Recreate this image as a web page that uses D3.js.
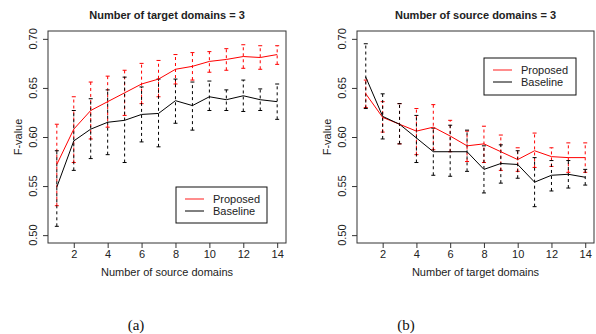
<!DOCTYPE html>
<html>
<head>
<meta charset="utf-8">
<script src="https://cdn.jsdelivr.net/npm/d3@7"></script>
<style>
  body { margin: 0; background: #fff; }
  svg { display: block; font-family: "Liberation Sans", Arial, sans-serif; }
</style>
</head>
<body>
<svg width="596" height="334"></svg>
<script>
// x positions shared by both panels
const domains = [1, 2, 3, 4, 5, 6, 7, 8, 9, 10, 11, 12, 13, 14];
const xTicks = [2, 4, 6, 8, 10, 12, 14];
const yTicks = [0.50, 0.55, 0.60, 0.65, 0.70];

// (a) target domains = 3, varying source domains
const aProposed    = [0.572, 0.608, 0.627, 0.636, 0.645, 0.654, 0.659, 0.669, 0.672, 0.677, 0.679, 0.682, 0.681, 0.684];
const aProposedHi  = [0.613, 0.641, 0.656, 0.662, 0.668, 0.675, 0.678, 0.684, 0.686, 0.687, 0.690, 0.694, 0.693, 0.693];
const aProposedLo  = [0.530, 0.574, 0.598, 0.610, 0.622, 0.634, 0.641, 0.654, 0.658, 0.666, 0.668, 0.670, 0.669, 0.674];
const aBaseline    = [0.549, 0.596, 0.608, 0.615, 0.617, 0.623, 0.624, 0.637, 0.632, 0.641, 0.638, 0.642, 0.638, 0.636];
const aBaselineHi  = [0.586, 0.627, 0.639, 0.648, 0.661, 0.651, 0.659, 0.659, 0.656, 0.657, 0.648, 0.658, 0.649, 0.654];
const aBaselineLo  = [0.509, 0.566, 0.578, 0.582, 0.574, 0.595, 0.590, 0.614, 0.607, 0.627, 0.627, 0.626, 0.627, 0.618];

// (b) source domains = 3, varying target domains
const bProposed    = [0.644, 0.620, 0.613, 0.606, 0.610, 0.601, 0.591, 0.593, 0.585, 0.577, 0.586, 0.580, 0.579, 0.579];
const bProposedHi  = [0.658, 0.636, 0.634, 0.629, 0.633, 0.617, 0.606, 0.611, 0.602, 0.589, 0.604, 0.589, 0.594, 0.594];
const bProposedLo  = [0.630, 0.605, 0.593, 0.582, 0.587, 0.585, 0.575, 0.574, 0.566, 0.565, 0.569, 0.570, 0.564, 0.564];
const bBaseline    = [0.661, 0.621, 0.613, 0.599, 0.585, 0.585, 0.585, 0.567, 0.573, 0.572, 0.554, 0.561, 0.562, 0.559];
const bBaselineHi  = [0.695, 0.644, 0.634, 0.622, 0.609, 0.612, 0.607, 0.591, 0.592, 0.586, 0.579, 0.576, 0.576, 0.567];
const bBaselineLo  = [0.629, 0.598, 0.593, 0.574, 0.561, 0.560, 0.565, 0.543, 0.553, 0.558, 0.529, 0.545, 0.548, 0.551];

const seriesNames = ["Proposed", "Baseline"];
const seriesColors = ["#ff0000", "#000000"];

const svg = d3.select("svg");
const TEXT = "#222";

class panel {
    constructor(opts) {
        this.left = opts.left;
        this.top = 31;
        this.width = opts.width;
        this.height = 212;
        this.opts = opts;
        this.x = d3.scaleLinear().domain([0.48, 14.52]).range([this.left, this.left + this.width]);
        this.y = d3.scaleLinear().domain([0.492, 0.708]).range([this.top + this.height, this.top]);
        this.g = svg.append("g");
    }

    axes() {
        let g = this.g, o = this.opts;
        let bottom = this.top + this.height;

        g.append("g")
            .attr("transform", `translate(0,${bottom})`)
            .call(d3.axisBottom(this.x).tickValues(xTicks).tickSize(5).tickPadding(2))
            .call(a => a.select(".domain").remove())
            .call(a => a.selectAll("line").attr("stroke", "#333"))
            .call(a => a.selectAll("text").attr("fill", TEXT).attr("font-size", 11)
                         .attr("font-family", "Liberation Sans, Arial, sans-serif"));

        // R-style y axis: labels parallel to the axis
        let ya = g.append("g").attr("transform", `translate(${this.left},0)`);
        ya.call(d3.axisLeft(this.y).tickValues(yTicks).tickSize(5).tickFormat(d3.format(".2f")))
            .call(a => a.select(".domain").remove())
            .call(a => a.selectAll("line").attr("stroke", "#333"))
            .call(a => a.selectAll("text").remove());
        yTicks.forEach(t => {
            g.append("text")
                .attr("transform", `translate(${this.left - 11},${this.y(t)}) rotate(-90)`)
                .attr("text-anchor", "middle")
                .attr("font-size", 11)
                .attr("fill", TEXT)
                .text(d3.format(".2f")(t));
        });

        g.append("rect")
            .attr("x", this.left).attr("y", this.top)
            .attr("width", this.width).attr("height", this.height)
            .attr("fill", "none").attr("stroke", "#333").attr("stroke-width", 1);

        g.append("text")
            .attr("x", this.left + this.width / 2).attr("y", 19)
            .attr("text-anchor", "middle").attr("font-size", 11).attr("font-weight", "bold")
            .attr("fill", TEXT).text(o.title);

        g.append("text")
            .attr("x", this.left + this.width / 2).attr("y", 276)
            .attr("text-anchor", "middle").attr("font-size", 11)
            .attr("fill", TEXT).text(o.xlabel);

        g.append("text")
            .attr("transform", `translate(${this.left - 26},${this.y(0.60)}) rotate(-90)`)
            .attr("text-anchor", "middle").attr("font-size", 11)
            .attr("fill", TEXT).text("F-value");

        g.append("text")
            .attr("x", o.capX).attr("y", 330)
            .attr("text-anchor", "middle").attr("font-size", 15)
            .attr("font-family", "Liberation Serif, Times New Roman, serif")
            .attr("fill", "#111").text(o.caption);
    }

    errorBars(mid, lo, hi, color) {
        let g = this.g.append("g");
        let cap = 2;
        domains.forEach((d, i) => {
            let px = this.x(d);
            g.append("line")
                .attr("x1", px).attr("x2", px)
                .attr("y1", this.y(lo[i])).attr("y2", this.y(hi[i]))
                .attr("stroke", color).attr("stroke-dasharray", "3,3");
            [lo[i], hi[i]].forEach(v => {
                g.append("line")
                    .attr("x1", px - cap).attr("x2", px + cap)
                    .attr("y1", this.y(v)).attr("y2", this.y(v))
                    .attr("stroke", color);
            });
        });
    }

    series(vals, color) {
        let line = d3.line().x((d, i) => this.x(domains[i])).y(d => this.y(d));
        this.g.append("path")
            .datum(vals)
            .attr("d", line)
            .attr("fill", "none")
            .attr("stroke", color)
            .attr("stroke-width", 1);
    }

    legend(lx, ly, lw, lh) {
        let g = this.g.append("g");
        g.append("rect")
            .attr("x", lx).attr("y", ly).attr("width", lw).attr("height", lh)
            .attr("fill", "#fff").attr("stroke", "#111");
        seriesNames.forEach((n, i) => {
            let yy = ly + 12 + i * 12;
            g.append("line")
                .attr("x1", lx + 9).attr("x2", lx + 28)
                .attr("y1", yy).attr("y2", yy)
                .attr("stroke", seriesColors[i]).attr("stroke-width", i == 0 ? 1.5 : 1)
                .attr("stroke-opacity", i == 0 ? 0.6 : 1);
            g.append("text")
                .attr("x", lx + 37).attr("y", yy + 4)
                .attr("font-size", 11).attr("fill", TEXT).text(n);
        });
    }

    make(data) {
        this.axes();
        this.errorBars(data.p, data.pLo, data.pHi, seriesColors[0]);
        this.errorBars(data.b, data.bLo, data.bHi, seriesColors[1]);
        this.series(data.p, seriesColors[0]);
        this.series(data.b, seriesColors[1]);
        let L = this.opts.legend;
        this.legend(L[0], L[1], L[2], L[3]);
    }
}

new panel({left: 48, width: 238, title: "Number of target domains = 3",
           xlabel: "Number of source domains", caption: "(a)", capX: 136,
           legend: [176, 187, 91, 36]})
    .make({p: aProposed, pLo: aProposedLo, pHi: aProposedHi,
           b: aBaseline, bLo: aBaselineLo, bHi: aBaselineHi});

new panel({left: 357, width: 237, title: "Number of source domains = 3",
           xlabel: "Number of target domains", caption: "(b)", capX: 406,
           legend: [484, 58, 92, 37]})
    .make({p: bProposed, pLo: bProposedLo, pHi: bProposedHi,
           b: bBaseline, bLo: bBaselineLo, bHi: bBaselineHi});
</script>
</body>
</html>
